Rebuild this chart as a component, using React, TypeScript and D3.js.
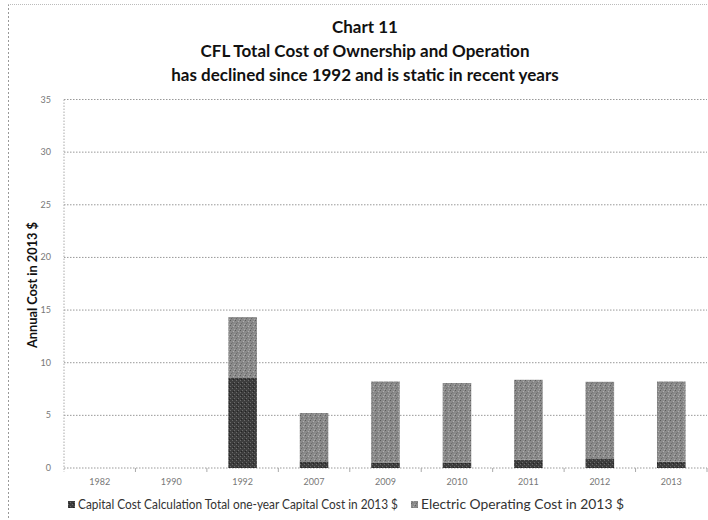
import React from "react";
import * as d3 from "d3";

const years = ["1982", "1990", "1992", "2007", "2009", "2010", "2011", "2012", "2013"];
const capitalCost = [0, 0, 8.55, 0.63, 0.52, 0.52, 0.79, 0.85, 0.6];
const electricCost = [0, 0, 5.78, 4.59, 7.7, 7.55, 7.59, 7.34, 7.62];
const yTicks = [0, 5, 10, 15, 20, 25, 30, 35];
const titleLines = [
  "Chart 11",
  "CFL Total Cost of Ownership and Operation",
  "has declined since 1992 and is static in recent years",
];
const seriesNames = [
  "Capital Cost Calculation Total one-year Capital Cost in 2013 $",
  "Electric Operating Cost in 2013 $",
];

const W = 708;
const H = 520;
const margin = { left: 64, right: 1, top: 99.5, bottom: 52 };

export default function App() {
  const x = d3
    .scaleBand<string>()
    .domain(years)
    .range([margin.left, W - margin.right])
    .paddingInner(0.6)
    .paddingOuter(0.3);
  const band = d3.scaleBand<string>().domain(years).range([margin.left, W - margin.right]);
  const y = d3.scaleLinear().domain([0, 35]).range([H - margin.bottom, margin.top]);

  const rows = years.map((yr, i) => ({ year: yr, capital: capitalCost[i], electric: electricCost[i] }));
  const stacked = d3.stack<any>().keys(["capital", "electric"])(rows);
  const fills = ["url(#capPat)", "url(#elecPat)"];
  const font = "Lato, 'Open Sans', sans-serif";

  return (
    <svg
      width={W}
      height={H}
      style={{ position: "absolute", left: 0, top: 0, background: "#fff" }}
      fontFamily={font}
    >
      <defs>
        <pattern id="capPat" width="4" height="4" patternUnits="userSpaceOnUse">
          <rect width="4" height="4" fill="#3d3d3d" />
          <rect x="0" y="0" width="1" height="1" fill="#6a6a6a" />
          <rect x="2" y="2" width="1" height="1" fill="#6a6a6a" />
          <rect x="1" y="3" width="1" height="1" fill="#222" />
        </pattern>
        <pattern id="elecPat" width="5" height="5" patternUnits="userSpaceOnUse">
          <rect width="5" height="5" fill="#8a8a8a" />
          <rect x="0" y="0" width="1" height="1" fill="#5c5c5c" />
          <rect x="3" y="1" width="1" height="1" fill="#b0b0b0" />
          <rect x="1" y="3" width="1" height="1" fill="#6a6a6a" />
          <rect x="4" y="4" width="1" height="1" fill="#a8a8a8" />
          <rect x="2" y="2" width="1" height="1" fill="#777" />
        </pattern>
      </defs>

      {/* outer dotted frame */}
      <line x1={8.5} x2={8.5} y1={4} y2={H} stroke="#999" strokeDasharray="2,2" />
      <line x1={8} x2={W} y1={4.5} y2={4.5} stroke="#bbb" strokeDasharray="1,1" />

      {/* title */}
      {titleLines.map((t, i) => (
        <text
          key={i}
          x={365}
          y={33 + i * 24}
          textAnchor="middle"
          fontSize={17}
          fontWeight="bold"
          fill="#111"
        >
          {t}
        </text>
      ))}

      {/* gridlines */}
      {yTicks.map((t) => (
        <g key={t}>
          <line
            x1={margin.left}
            x2={W - margin.right}
            y1={y(t)}
            y2={y(t)}
            stroke="#999"
            strokeDasharray="1.5,1.5"
          />
          <text x={51} y={y(t) + 3} textAnchor="end" fontSize={9} fill="#777">
            {t}
          </text>
        </g>
      ))}
      <line x1={margin.left} x2={margin.left} y1={margin.top} y2={y(0) + 4} stroke="#aaa" strokeDasharray="1.5,1.5" />
      {years.map((yr) => (
        <line
          key={"tk" + yr}
          x1={(band(yr) as number) + band.bandwidth()}
          x2={(band(yr) as number) + band.bandwidth()}
          y1={y(0)}
          y2={y(0) + 4}
          stroke="#aaa"
        />
      ))}

      {/* bars */}
      {stacked.map((s, si) =>
        s.map((d, i) => (
          <rect
            key={si + "-" + i}
            x={x(years[i])}
            width={x.bandwidth()}
            y={y(d[1])}
            height={Math.max(0, y(d[0]) - y(d[1]))}
            fill={fills[si]}
          />
        ))
      )}

      {/* x labels */}
      {years.map((yr) => (
        <text
          key={"xl" + yr}
          x={(band(yr) as number) + band.bandwidth() / 2}
          y={485}
          textAnchor="middle"
          fontSize={9}
          fill="#777"
        >
          {yr}
        </text>
      ))}

      {/* y axis title */}
      <text
        transform={`translate(37,${285}) rotate(-90)`}
        textAnchor="middle"
        fontSize={12.5}
        fontWeight="bold"
        fill="#111"
        textLength={126}
        lengthAdjust="spacingAndGlyphs"
      >
        Annual Cost in 2013 $
      </text>

      {/* legend */}
      <rect x={68} y={501} width={7} height={7} fill={fills[0]} />
      <text x={78} y={509} fontSize={12.5} fill="#333" textLength={320} lengthAdjust="spacingAndGlyphs">
        {seriesNames[0]}
      </text>
      <rect x={411} y={501} width={7} height={7} fill={fills[1]} />
      <text x={421} y={509} fontSize={12.5} fill="#333" textLength={203} lengthAdjust="spacingAndGlyphs">
        {seriesNames[1]}
      </text>
    </svg>
  );
}
